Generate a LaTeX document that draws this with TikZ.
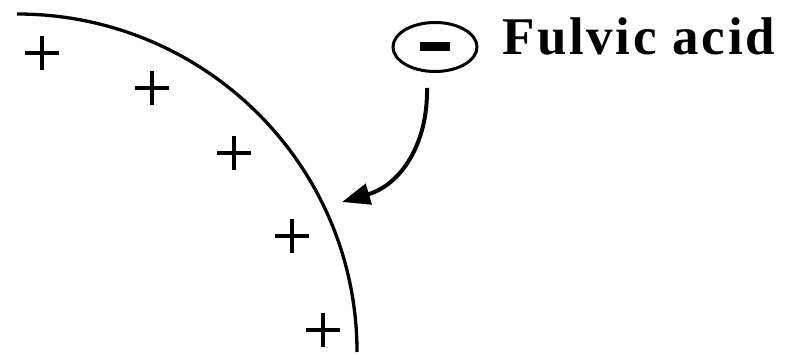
\documentclass[tikz,border=0pt]{standalone}
\usepackage{fontspec}
\usetikzlibrary{arrows.meta,shapes.geometric}
\newfontfamily\labelfont{Liberation Serif}[LetterSpace=5]
\tikzset{
  surface/.style={line width=3.3pt,draw=black},
  plusmark/.style={line width=4pt,draw=black},
  negcharge/.style={draw=black,ellipse,line width=3pt,inner sep=0pt,
    minimum width=84pt,minimum height=49pt},
  flow/.style={-{Triangle[length=28pt,width=21pt]},line width=4pt,draw=black}
}
\begin{document}
\begin{tikzpicture}[x=1pt,y=-1pt]
  \useasboundingbox (0,0) rectangle (789,355);
  % particle surface
  \draw[surface] (17,14) arc[start angle=90,end angle=0,x radius=340,y radius=-338];
  \foreach \px/\py in {42/53,152/88,234/153,292/236,323/330}
    \draw[plusmark] (\px-17,\py) -- (\px+17,\py) (\px,\py-17) -- (\px,\py+17);
  % fulvic acid
  \node[negcharge] (neg) at (435,47) {\rule{30pt}{9pt}};
  \node[anchor=base west,inner sep=0pt,font=\labelfont\bfseries\fontsize{53}{60}\selectfont] (label) at (502,55) {Fulvic acid};
  \coordinate (tail) at (427,88);
  \coordinate (hit) at (342,202);
  \draw[flow] (tail) .. controls (428,145) and (400,185) .. (hit);
\end{tikzpicture}
\end{document}
